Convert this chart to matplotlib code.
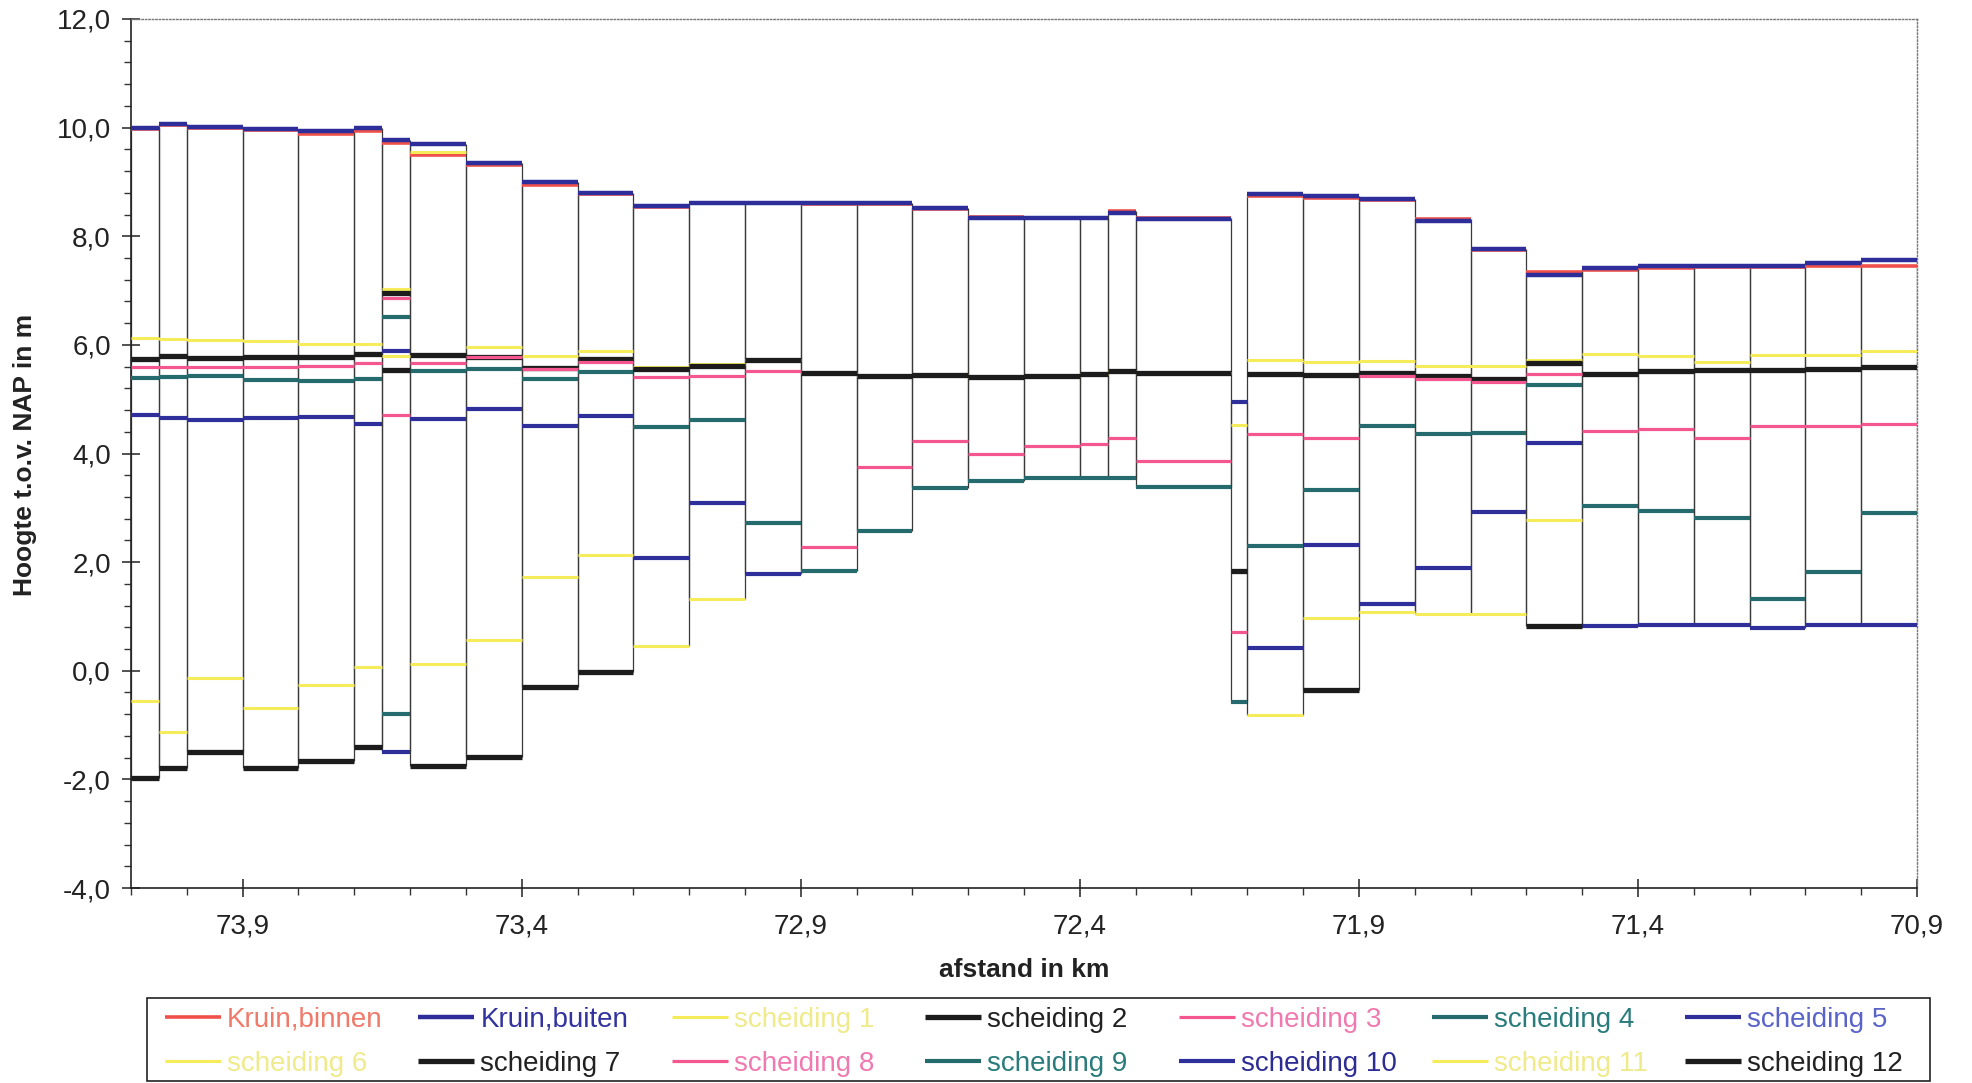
import numpy as np
import matplotlib
matplotlib.use("Agg")
import matplotlib.pyplot as plt
from matplotlib.lines import Line2D
from matplotlib.patches import Rectangle
from matplotlib.ticker import FixedLocator, MultipleLocator, FuncFormatter

plt.rcParams['font.family'] = ['Liberation Sans', 'DejaVu Sans']

nan = np.nan

# section boundaries (km), 35 sections
edges_km = [74.1, 74.05, 74.0, 73.9, 73.8, 73.7, 73.65, 73.6, 73.5, 73.4, 73.3, 73.2,
            73.1, 73.0, 72.9, 72.8, 72.7, 72.6, 72.5, 72.4, 72.35, 72.3, 72.13, 72.1,
            72.0, 71.9, 71.8, 71.7, 71.6, 71.5, 71.4, 71.3, 71.2, 71.1, 71.0, 70.9]

kruin_binnen = [9.98, 10.05, 10.00, 9.96, 9.88, 9.94, 9.72, 9.49, 9.32, 8.95, 8.77, 8.53,
                8.62, 8.62, 8.59, 8.60, 8.51, 8.36, 8.34, 8.33, 8.46, 8.34, nan, 8.75,
                8.70, 8.67, 8.32, 7.74, 7.34, 7.37, 7.41, 7.43, 7.43, 7.45, 7.45]
kruin_buiten = [10.00, 10.07, 10.02, 9.98, 9.94, 9.99, 9.77, 9.70, 9.35, 9.00, 8.80, 8.55,
                8.61, 8.62, 8.62, 8.61, 8.52, 8.34, 8.34, 8.34, 8.42, 8.32, nan, 8.77,
                8.74, 8.69, 8.28, 7.77, 7.29, 7.42, 7.45, 7.45, 7.46, 7.50, 7.56]
scheiding_1 = [6.12, 6.10, 6.09, 6.07, 6.01, 6.02, 7.03, 9.55, 5.97, 5.80, 5.88, 5.60,
               5.65, 5.73, 5.48, 5.43, 5.44, 5.41, 5.43, 5.46, 5.52, 5.48, nan, 5.72,
               5.68, 5.71, 5.61, 5.61, 5.72, 5.84, 5.80, 5.69, 5.82, 5.81, 5.89]
scheiding_2 = [5.74, 5.80, 5.76, 5.77, 5.77, 5.83, 6.95, 5.82, 5.78, 5.57, 5.74, 5.55,
               5.61, 5.73, 5.48, 5.43, 5.44, 5.41, 5.43, 5.46, 5.52, 5.48, nan, 5.46,
               5.44, 5.48, 5.43, 5.38, 5.67, 5.46, 5.52, 5.53, 5.54, 5.56, 5.59]
scheiding_3 = [5.60, 5.60, 5.60, 5.60, 5.62, 5.66, 6.87, 5.66, 5.77, 5.56, 5.68, 5.41,
               5.42, 5.52, 2.27, 3.75, 4.23, 4.00, 4.13, 4.18, 4.28, 3.86, nan, 4.36,
               4.29, 5.43, 5.38, 5.32, 5.46, 4.41, 4.46, 4.28, 4.50, 4.50, 4.55]
scheiding_4 = [5.39, 5.40, 5.42, 5.35, 5.34, 5.37, 6.52, 5.51, 5.55, 5.37, 5.50, 4.48,
               4.62, 2.72, 1.84, 2.58, 3.36, 3.50, 3.54, 3.54, 3.55, 3.39, nan, 2.29,
               3.32, 4.50, 4.36, 4.38, 5.26, 3.03, 2.95, 2.82, 1.32, 1.82, 2.90]
scheiding_5 = [4.70, 4.66, 4.62, 4.66, 4.67, 4.55, 5.88, 4.63, 4.82, 4.50, 4.69, 2.07,
               3.08, 1.78, nan, nan, nan, nan, nan, nan, nan, nan, 4.94, 0.41,
               2.32, 1.22, 1.89, 2.92, 4.19, 0.82, 0.84, 0.84, 0.78, 0.84, 0.84]
scheiding_6 = [-0.55, -1.13, -0.13, -0.69, -0.27, 0.06, 5.80, 0.13, 0.56, 1.72, 2.13, 0.45,
               1.33, nan, nan, nan, nan, nan, nan, nan, nan, nan, 4.53, -0.82,
               0.97, 1.09, 1.05, 1.05, 2.77, nan, nan, nan, nan, nan, nan]
scheiding_7 = [-1.98, -1.79, -1.50, -1.79, -1.66, -1.40, 5.53, -1.75, -1.58, -0.30, -0.03, nan,
               nan, nan, nan, nan, nan, nan, nan, nan, nan, nan, 1.83, nan,
               -0.36, nan, nan, nan, 0.82, nan, nan, nan, nan, nan, nan]
scheiding_8 = [nan, nan, nan, nan, nan, nan, 4.70, nan, nan, nan, nan, nan,
               nan, nan, nan, nan, nan, nan, nan, nan, nan, nan, 0.71, nan,
               nan, nan, nan, nan, nan, nan, nan, nan, nan, nan, nan]
scheiding_9 = [nan, nan, nan, nan, nan, nan, -0.79, nan, nan, nan, nan, nan,
               nan, nan, nan, nan, nan, nan, nan, nan, nan, nan, -0.58, nan,
               nan, nan, nan, nan, nan, nan, nan, nan, nan, nan, nan]
scheiding_10 = [nan, nan, nan, nan, nan, nan, -1.50, nan, nan, nan, nan, nan,
                nan, nan, nan, nan, nan, nan, nan, nan, nan, nan, nan, nan,
                nan, nan, nan, nan, nan, nan, nan, nan, nan, nan, nan]
scheiding_11 = [nan] * 35
scheiding_12 = [nan] * 35

series_names = ["Kruin,binnen", "Kruin,buiten"] + [f"scheiding {i}" for i in range(1, 13)]
series_values = [kruin_binnen, kruin_buiten, scheiding_1, scheiding_2, scheiding_3,
                 scheiding_4, scheiding_5, scheiding_6, scheiding_7, scheiding_8,
                 scheiding_9, scheiding_10, scheiding_11, scheiding_12]

x_ticks = [73.9, 73.4, 72.9, 72.4, 71.9, 71.4, 70.9]

# styles
C_RED, C_BLUE, C_YEL, C_BLK, C_PNK, C_TEAL, C_NAVY = (
    "#F0504A", "#2E2E9A", "#F6EC5A", "#1C1C1C", "#F4578F", "#256B6E", "#2F2F9C")
line_colors = [C_RED, C_BLUE, C_YEL, C_BLK, C_PNK, C_TEAL, C_NAVY,
               C_YEL, C_BLK, C_PNK, C_TEAL, C_NAVY, C_YEL, C_BLK]
line_widths = [2.6, 3.2, 2.2, 3.8, 2.3, 3.0, 3.0, 2.2, 3.8, 2.3, 3.0, 3.0, 2.2, 3.8]
text_colors = ["#F07A6A", "#3333A0", "#EFEA8A", "#222222", "#F07AB0", "#2A7C7C", "#5A63C8",
               "#EFEA8A", "#222222", "#F07AB0", "#2A7C7C", "#2C2C95", "#EFEA8A", "#222222"]

W, H = 1972, 1083
fig = plt.figure(figsize=(W / 100, H / 100), dpi=100)
ax = fig.add_axes([131 / W, 1 - 888 / H, (1917 - 131) / W, (888 - 19) / H])

edges = np.array(edges_km)
x0, x1 = edges[:-1], edges[1:]
vals = np.array(series_values, dtype=float)

# vertical section borders (from min to max of each section)
smin = np.nanmin(vals, axis=0)
smax = np.nanmax(vals, axis=0)
ax.vlines(x0, smin, smax, colors="#3a3a3a", linewidth=0.9, zorder=2)
ax.vlines(x1, smin, smax, colors="#3a3a3a", linewidth=0.9, zorder=2)

for i, (name, v) in enumerate(zip(series_names, series_values)):
    xs, ys = [], []
    for a, b, y in zip(x0, x1, v):
        xs += [a, b, np.nan]
        ys += [y, y, np.nan]
    ax.plot(xs, ys, color=line_colors[i], lw=line_widths[i],
            solid_capstyle="butt", label=name, zorder=3 + i * 0.01)

ax.set_xlim(74.1, 70.9)
ax.set_ylim(-4, 12)

fmt = FuncFormatter(lambda v, p: f"{v:.1f}".replace(".", ","))
ax.xaxis.set_major_locator(FixedLocator(x_ticks))
ax.xaxis.set_minor_locator(MultipleLocator(0.1))
ax.yaxis.set_major_locator(MultipleLocator(2.0))
ax.yaxis.set_minor_locator(MultipleLocator(0.4))
ax.xaxis.set_major_formatter(fmt)
ax.yaxis.set_major_formatter(fmt)
ax.tick_params(which="major", direction="inout", length=13, width=1.1, labelsize=20,
               color="#222222", labelcolor="#222222")
ax.tick_params(which="minor", direction="out", length=5, width=1.0, color="#333333")
ax.tick_params(axis="x", which="major", pad=12)
ax.tick_params(axis="y", which="major", pad=8)

for s in ["left", "bottom"]:
    ax.spines[s].set_linewidth(1.2)
    ax.spines[s].set_color("#222222")
for s in ["top", "right"]:
    ax.spines[s].set_linestyle((0, (1, 1.5)))
    ax.spines[s].set_color("#777777")
    ax.spines[s].set_linewidth(1.0)

fig.text(1024 / W, 1 - 970 / H, "afstand in km", ha="center", va="center",
         fontsize=19, fontweight="bold", color="#222222")
fig.text(25 / W, 1 - 455 / H, "Hoogte t.o.v. NAP in m", ha="center", va="center",
         rotation=90, fontsize=19, fontweight="bold", color="#222222")

# legend drawn manually: 2 rows x 7 columns
fig.add_artist(Rectangle((147 / W, 1 - 1081 / H), (1930 - 147) / W, (1081 - 998) / H,
                         transform=fig.transFigure, fill=False, edgecolor="#222222",
                         linewidth=1.2))
col_x = [165 + 253.4 * c for c in range(7)]
row_y = [1017, 1061]
for k, name in enumerate(series_names):
    r, c = divmod(k, 7)
    xh = col_x[c]
    yy = 1 - row_y[r] / H
    fig.add_artist(Line2D([xh / W, (xh + 56) / W], [yy, yy], transform=fig.transFigure,
                          color=line_colors[k], lw=line_widths[k], solid_capstyle="butt"))
    fig.text((xh + 62) / W, yy, name, ha="left", va="center_baseline", fontsize=20,
             color=text_colors[k])

fig.savefig("out.png", dpi=100)
